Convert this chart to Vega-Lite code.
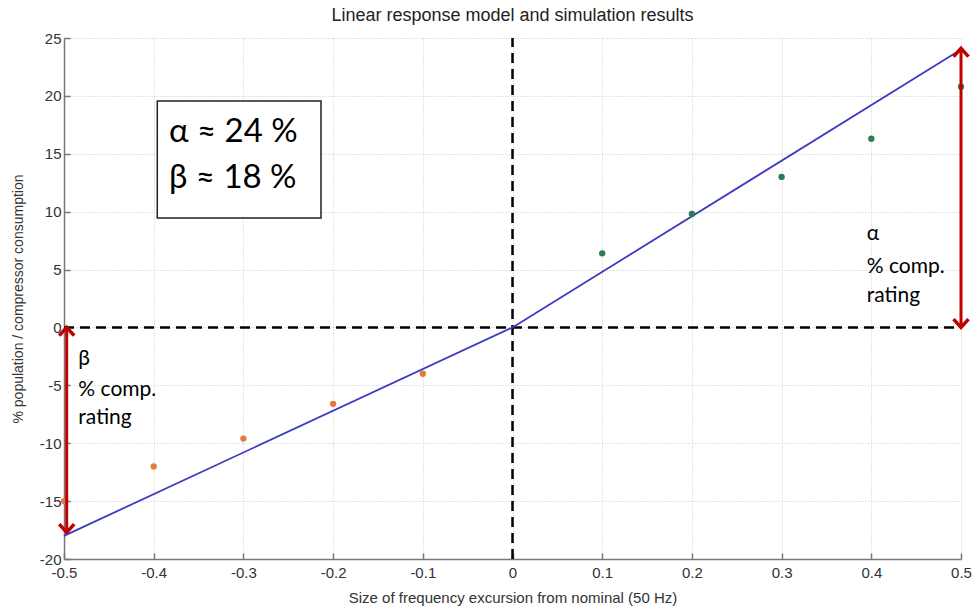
{
  "$schema": "https://vega.github.io/schema/vega-lite/v6.json",
  "width": 897,
  "height": 521,
  "autosize": {"type": "none"},
  "padding": {"left": 64, "top": 38, "right": 15, "bottom": 55},
  "background": "white",
  "title": {
    "text": "Linear response model and simulation results",
    "font": "Liberation Sans",
    "fontSize": 18,
    "fontWeight": "normal",
    "color": "#222222",
    "anchor": "middle",
    "offset": 6
  },
  "config": {
    "view": {"stroke": null},
    "axis": {
      "labelFont": "Liberation Sans",
      "titleFont": "Liberation Sans",
      "labelColor": "#333333",
      "titleColor": "#333333",
      "titleFontWeight": "normal",
      "gridColor": "#c8c8c8",
      "gridDash": [1, 2],
      "gridWidth": 1,
      "domainColor": "#777777",
      "domainWidth": 1.5,
      "tickColor": "#777777",
      "tickWidth": 1.5
    }
  },
  "encoding": {
    "x": {
      "field": "x",
      "type": "quantitative",
      "scale": {"domain": [-0.5, 0.5], "nice": false, "zero": false},
      "axis": {
        "values": [-0.5, -0.4, -0.3, -0.2, -0.1, 0, 0.1, 0.2, 0.3, 0.4, 0.5],
        "labelExpr": "(datum.value < -0.0001 ? '-' : '') + format(abs(datum.value), '~g')",
        "title": "Size of frequency excursion from nominal (50 Hz)",
        "labelFontSize": 15,
        "titleFontSize": 15,
        "tickSize": -6,
        "labelPadding": 12,
        "titlePadding": 10,
        "labelFlush": false
      }
    },
    "y": {
      "field": "y",
      "type": "quantitative",
      "scale": {"domain": [-20, 25], "nice": false, "zero": false},
      "axis": {
        "values": [-20, -15, -10, -5, 0, 5, 10, 15, 20, 25],
        "labelExpr": "(datum.value < 0 ? '-' : '') + format(abs(datum.value), '~g')",
        "title": "% population / compressor consumption",
        "labelFontSize": 15,
        "titleFontSize": 14,
        "tickSize": -6,
        "labelPadding": 9,
        "titlePadding": 14
      }
    }
  },
  "layer": [
    {
      "data": {"values": [
        {"x": -0.5, "y": 0, "x2": 0.5, "y2": 0},
        {"x": 0, "y": -20, "x2": 0, "y2": 25}
      ]},
      "mark": {"type": "rule", "color": "#000000", "strokeWidth": 2.5, "strokeDash": [10, 6]},
      "encoding": {"x2": {"field": "x2"}, "y2": {"field": "y2"}}
    },
    {
      "data": {"values": [
        {"x": -0.5, "y": -18},
        {"x": 0, "y": 0},
        {"x": 0.5, "y": 24}
      ]},
      "mark": {"type": "line", "color": "#3c3cc0", "strokeWidth": 1.8},
      "encoding": {}
    },
    {
      "data": {"values": [
        {"x": -0.5, "y": -15.0, "side": "under"},
        {"x": -0.4, "y": -12.0, "side": "under"},
        {"x": -0.3, "y": -9.6, "side": "under"},
        {"x": -0.2, "y": -6.6, "side": "under"},
        {"x": -0.1, "y": -4.0, "side": "under"},
        {"x": 0.1, "y": 6.4, "side": "over"},
        {"x": 0.2, "y": 9.8, "side": "over"},
        {"x": 0.3, "y": 13.0, "side": "over"},
        {"x": 0.4, "y": 16.3, "side": "over"},
        {"x": 0.5, "y": 20.8, "side": "over"}
      ]},
      "mark": {"type": "circle", "size": 40, "opacity": 1},
      "encoding": {
        "color": {
          "field": "side",
          "type": "nominal",
          "scale": {"domain": ["under", "over"], "range": ["#e07b3c", "#2e7d50"]},
          "legend": null
        }
      }
    },
    {
      "data": {"values": [
        {"x": -0.497, "y": -0.1, "y2": -17.7},
        {"x": 0.5, "y": 0.1, "y2": 24.0}
      ]},
      "mark": {"type": "rule", "color": "#c00000", "strokeWidth": 3},
      "encoding": {"y2": {"field": "y2"}}
    },
    {
      "data": {"values": [
        {"x": -0.497, "y": 0.0, "dir": "up"},
        {"x": -0.497, "y": -17.7, "dir": "down"},
        {"x": 0.5, "y": 0.0, "dir": "down"},
        {"x": 0.5, "y": 24.1, "dir": "up"}
      ]},
      "mark": {"type": "point", "filled": false, "size": 225, "strokeWidth": 3.5, "color": "#c00000", "opacity": 1, "strokeCap": "butt", "strokeJoin": "miter"},
      "encoding": {
        "shape": {
          "field": "dir",
          "type": "nominal",
          "scale": {"domain": ["up", "down"], "range": ["M-1,1.1L0,0L1,1.1", "M-1,-1.1L0,0L1,-1.1"]},
          "legend": null
        }
      }
    },
    {
      "data": {"values": [
        {"x": -0.396, "x2": -0.2135, "y": 9.45, "y2": 19.55}
      ]},
      "mark": {"type": "rect", "fill": "white", "stroke": "#222222", "strokeWidth": 1.5},
      "encoding": {"x2": {"field": "x2"}, "y2": {"field": "y2"}}
    },
    {
      "data": {"values": [
        {"x": -0.383, "y": 16.9, "label": "α ≈ 24 %"},
        {"x": -0.383, "y": 12.9, "label": "β ≈ 18 %"}
      ]},
      "mark": {"type": "text", "font": "Lato", "fontSize": 33, "align": "left", "baseline": "middle", "color": "#000000"},
      "encoding": {"text": {"field": "label"}}
    },
    {
      "data": {"values": [
        {"x": 0.395, "y": 8.1, "label": "α"},
        {"x": 0.395, "y": 5.2, "label": "% comp."},
        {"x": 0.395, "y": 2.7, "label": "rating"},
        {"x": -0.484, "y": -2.7, "label": "β"},
        {"x": -0.484, "y": -5.4, "label": "% comp."},
        {"x": -0.484, "y": -7.8, "label": "rating"}
      ]},
      "mark": {"type": "text", "font": "Lato", "fontSize": 21, "align": "left", "baseline": "middle", "color": "#000000"},
      "encoding": {"text": {"field": "label"}}
    }
  ]
}
